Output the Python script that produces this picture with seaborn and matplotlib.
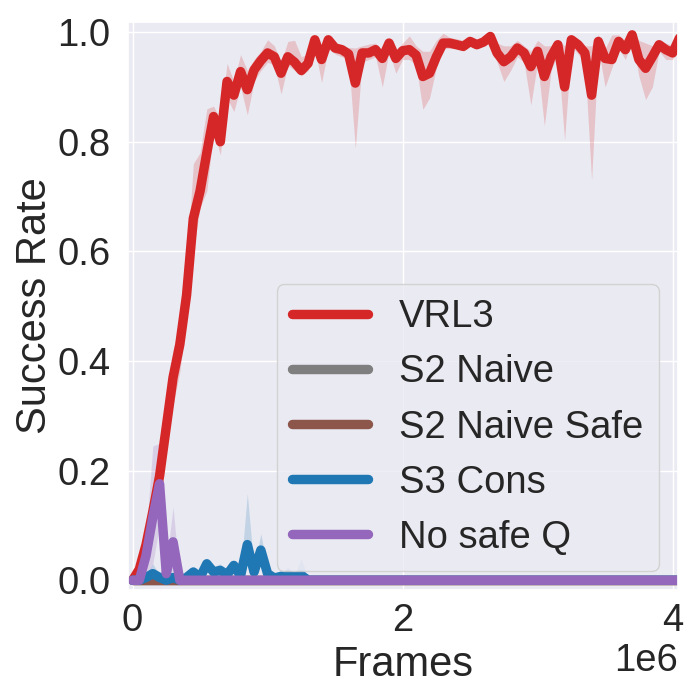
import numpy as np
import matplotlib
matplotlib.use('Agg')
import matplotlib.pyplot as plt
import seaborn as sns

# frames grid shared by every curve (one eval every 50k frames)
frames = np.arange(82) * 5e4

# VRL3 mean success rate and its band
vrl3 = [0.000, 0.020, 0.065, 0.125, 0.190, 0.280, 0.370, 0.430, 0.520, 0.660,
        0.710, 0.780, 0.846, 0.800, 0.910, 0.885, 0.928, 0.895, 0.931, 0.948,
        0.962, 0.955, 0.925, 0.955, 0.945, 0.930, 0.943, 0.986, 0.950, 0.986,
        0.971, 0.968, 0.960, 0.907, 0.962, 0.962, 0.968, 0.952, 0.980, 0.952,
        0.966, 0.968, 0.958, 0.919, 0.925, 0.955, 0.980, 0.980, 0.977, 0.974,
        0.983, 0.977, 0.982, 0.992, 0.962, 0.946, 0.955, 0.971, 0.962, 0.937,
        0.965, 0.919, 0.955, 0.977, 0.900, 0.986, 0.977, 0.962, 0.885, 0.983,
        0.952, 0.950, 0.983, 0.968, 0.995, 0.950, 0.934, 0.955, 0.977, 0.968,
        0.962, 0.989]
vrl3_lo = [0.000, 0.010, 0.050, 0.100, 0.160, 0.250, 0.320, 0.380, 0.480, 0.600,
           0.680, 0.710, 0.820, 0.776, 0.880, 0.855, 0.900, 0.849, 0.910, 0.930,
           0.945, 0.940, 0.887, 0.940, 0.930, 0.920, 0.930, 0.970, 0.908, 0.970,
           0.960, 0.955, 0.950, 0.788, 0.945, 0.950, 0.955, 0.900, 0.965, 0.925,
           0.950, 0.950, 0.940, 0.859, 0.880, 0.935, 0.970, 0.970, 0.970, 0.965,
           0.975, 0.970, 0.975, 0.985, 0.945, 0.910, 0.930, 0.955, 0.945, 0.867,
           0.945, 0.829, 0.930, 0.960, 0.803, 0.975, 0.960, 0.945, 0.730, 0.970,
           0.900, 0.935, 0.970, 0.950, 0.985, 0.920, 0.877, 0.900, 0.965, 0.950,
           0.950, 0.975]
vrl3_hi = [0.005, 0.030, 0.080, 0.150, 0.220, 0.310, 0.420, 0.470, 0.570, 0.760,
           0.780, 0.860, 0.865, 0.840, 0.943, 0.910, 0.959, 0.930, 0.950, 0.965,
           0.986, 0.975, 0.945, 0.983, 0.985, 0.955, 0.960, 0.995, 0.970, 0.992,
           0.975, 0.975, 0.972, 0.971, 0.975, 0.978, 0.980, 0.965, 0.990, 0.965,
           0.980, 0.993, 0.975, 0.965, 0.965, 0.985, 0.998, 0.990, 0.988, 0.985,
           0.990, 0.988, 0.990, 0.998, 0.980, 0.975, 0.975, 0.985, 0.975, 0.965,
           0.985, 0.975, 0.975, 0.985, 0.975, 0.995, 0.985, 0.975, 0.975, 0.995,
           0.970, 0.995, 0.995, 0.985, 1.000, 0.985, 0.980, 0.975, 0.985, 0.980,
           0.975, 0.995]

# S2 Naive / S2 Naive Safe stay at zero the whole run
s2_naive = [0.0] * 82
s2_naive_safe = [0.0] * 82

# S3 Cons: small bumps until ~1.3e6, then zero
s3_cons = [0.000, 0.000, 0.005, 0.012, 0.005, 0.000, 0.005, 0.000, 0.005, 0.015,
           0.005, 0.030, 0.015, 0.018, 0.010, 0.027, 0.008, 0.065, 0.015, 0.055,
           0.012, 0.004, 0.007, 0.009, 0.007, 0.009] + [0.0] * 56
s3_cons_hi = [0.000, 0.000, 0.010, 0.030, 0.010, 0.000, 0.010, 0.000, 0.010, 0.025,
              0.010, 0.040, 0.025, 0.030, 0.015, 0.035, 0.012, 0.158, 0.020, 0.085,
              0.020, 0.008, 0.012, 0.024, 0.010, 0.040] + [0.0] * 56

# No safe Q: early spike then zero
no_safe_q = [0.000, 0.000, 0.045, 0.115, 0.176, 0.012, 0.070] + [0.0] * 75
no_safe_q_lo = [0.000, 0.000, 0.000, 0.030, 0.100, 0.000, 0.020] + [0.0] * 75
no_safe_q_hi = [0.000, 0.005, 0.080, 0.245, 0.250, 0.030, 0.134] + [0.0] * 75

names = ['VRL3', 'S2 Naive', 'S2 Naive Safe', 'S3 Cons', 'No safe Q']
colors = ['tab:red', 'tab:gray', 'tab:brown', 'tab:blue', 'tab:purple']
means = [vrl3, s2_naive, s2_naive_safe, s3_cons, no_safe_q]
lows = [vrl3_lo, s2_naive, s2_naive_safe, s3_cons, no_safe_q_lo]
highs = [vrl3_hi, s2_naive, s2_naive_safe, s3_cons_hi, no_safe_q_hi]

sns.set_theme(style='darkgrid', context='notebook', font_scale=2.5)
plt.rcParams['font.family'] = ['Liberation Sans', 'DejaVu Sans']

fig, ax = plt.subplots(figsize=(7, 7), dpi=100)
fig.subplots_adjust(left=0.183, right=0.968, top=0.969, bottom=0.157)

for name, c, m, lo, hi in zip(names, colors, means, lows, highs):
    ax.fill_between(frames, lo, hi, color=c, alpha=0.2, lw=0)
    sns.lineplot(x=frames, y=m, color=c, lw=6.8, label=name, ax=ax)

ax.set_xlim(-0.033e6, 4.037e6)
ax.set_ylim(-0.018, 1.019)
ax.set_xticks([0, 2e6, 4e6])
ax.tick_params(axis='y', pad=6.5)
ax.set_xlabel('Frames')
ax.set_ylabel('Success Rate', labelpad=2)
ax.legend(loc='lower right')

fig.savefig('out.png', dpi=100)
